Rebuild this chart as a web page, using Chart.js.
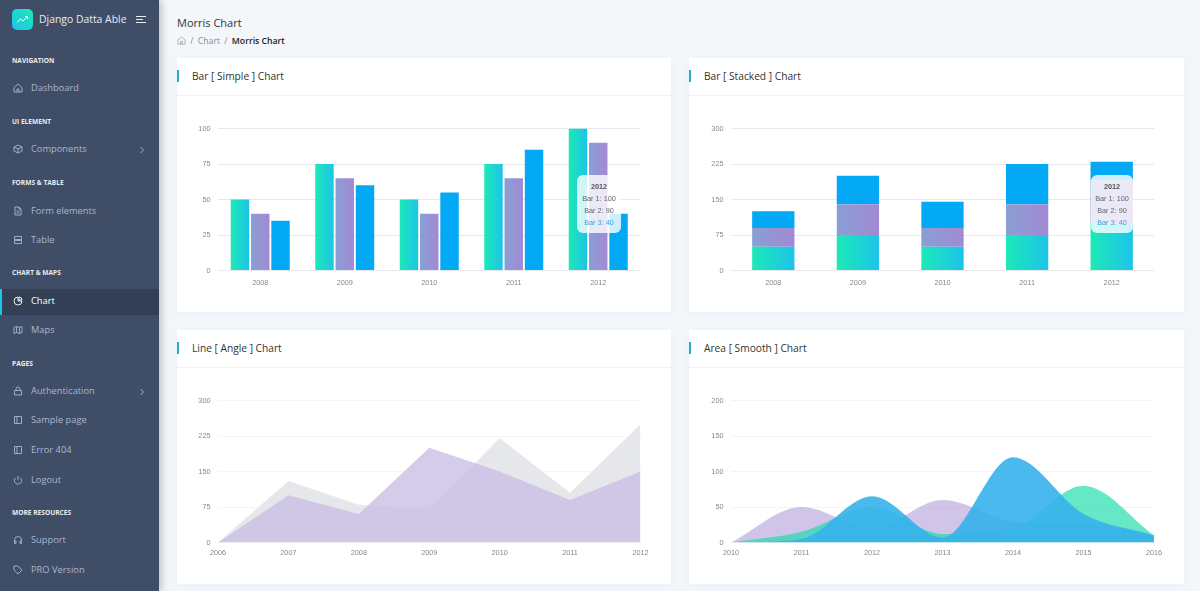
<!DOCTYPE html>
<html>
<head>
<meta charset="utf-8">
<title>Morris Chart</title>
<script src="https://cdn.jsdelivr.net/npm/chart.js@4/dist/chart.umd.min.js"></script>
<style>
html, body { margin: 0; padding: 0; }
body { width: 1200px; height: 591px; overflow: hidden; background: #f4f7fa; font-family: "Open Sans", sans-serif; position: relative; }
#side { position: absolute; left: 0; top: 0; width: 159px; height: 591px; background: #3f4d67; box-shadow: 2px 0 8px rgba(60,70,90,.35); }
#logo { position: absolute; left: 12px; top: 9px; width: 21px; height: 21px; border-radius: 5px; background: linear-gradient(-135deg, #1de9b6, #1dc4e9); }
#logo svg { position: absolute; left: 0; top: 0; }
#brand { position: absolute; left: 39px; top: 10px; font-size: 10.4px; line-height: 18px; color: #e8ebf0; white-space: nowrap; }
#burger { position: absolute; left: 136px; top: 16px; }
#burger i { display: block; height: 1px; background: #e8ebf0; margin-bottom: 2px; }
.group { position: absolute; left: 12px; font-size: 6.6px; font-weight: 700; color: #e8ebf0; line-height: 10px; white-space: nowrap; }
.item { position: absolute; left: 31px; font-size: 9.3px; color: #a9b7d0; line-height: 14px; white-space: nowrap; }
.item.on { color: #fff; }
.ico { position: absolute; left: 13px; width: 10px; height: 10px; }
.arrow { position: absolute; left: 139px; width: 6px; height: 8px; }
#active { position: absolute; left: 0; top: 289px; width: 159px; height: 26px; background: #333f54; }
#active i { position: absolute; left: 0; top: 0; width: 2px; height: 26px; background: #1dc4e9; }
#head { position: absolute; left: 177px; top: 15px; font-size: 11px; line-height: 16px; color: #333; }
#crumb { position: absolute; left: 177px; top: 34px; font-size: 8.7px; line-height: 14px; color: #888; white-space: nowrap; }
#crumb b { font-weight: 600; color: #222; }
#crumb span { margin: 0 4.3px; }
.card { position: absolute; height: 254px; background: #fff; box-shadow: 0 1px 8px rgba(180,190,210,.15); }
.card h5 { margin: 0; position: absolute; left: 15px; top: 9.5px; font-size: 10.2px; font-weight: 400; line-height: 16px; color: #333; white-space: nowrap; }
.card u { position: absolute; left: 0; top: 12px; width: 2px; height: 12px; background: #2ba8d3; display: block; }
.card hr { position: absolute; left: 0; top: 37px; width: 100%; margin: 0; border: 0; border-top: 1px solid #f1f1f1; }
.card .plot { position: absolute; left: 0; top: 38px; width: 100%; height: 216px; }
.tip { position: absolute; top: 116.5px; height: 58.5px; border-radius: 6px; background: rgba(255,255,255,.8); font: 7.3px/11.8px "Liberation Sans", sans-serif; color: #666; text-align: center; }
.tip b { display: block; margin-top: 6px; margin-bottom: 1px; color: #555; }
.tip div:last-child { color: #3f9fd8; }
</style>
</head>
<body>
<div id="side">
  <div id="logo"><svg width="21" height="21" viewBox="0 0 21 21"><path d="M5 13.5l3.5-3.5 2.5 2 4.5-4.5M13 7.5h2.5V10" fill="none" stroke="#fff" stroke-width="1"/></svg></div>
  <div id="brand">Django Datta Able</div>
  <div id="burger"><i style="width:10px"></i><i style="width:7px"></i><i style="width:10px"></i></div>
  <div id="active"><i></i></div>
</div>
<div id="head">Morris Chart</div>
<div id="crumb"><svg width="9" height="9" viewBox="0 0 10 10" style="vertical-align:-1px"><path d="M1 4.5L5 1l4 3.5V9H1zM4 9V6h2v3" fill="none" stroke="#999" stroke-width=".8"/></svg><span>/</span>Chart<span>/</span><b>Morris Chart</b></div>

<div class="card" style="left:177px;top:58px;width:494px"><u></u><h5>Bar [ Simple ] Chart</h5><hr><div class="plot"><canvas id="barSimple"></canvas></div><div class="tip" id="tipSimple" style="left:400px;width:44px"></div></div>
<div class="card" style="left:689px;top:58px;width:495px"><u></u><h5>Bar [ Stacked ] Chart</h5><hr><div class="plot"><canvas id="barStacked"></canvas></div><div class="tip" id="tipStacked" style="left:402px;width:42px"></div></div>
<div class="card" style="left:177px;top:330px;width:494px"><u></u><h5>Line [ Angle ] Chart</h5><hr><div class="plot"><canvas id="lineAngle"></canvas></div></div>
<div class="card" style="left:689px;top:330px;width:495px"><u></u><h5>Area [ Smooth ] Chart</h5><hr><div class="plot"><canvas id="areaSmooth"></canvas></div></div>

<script>
// chart values
const barYears = ['2008', '2009', '2010', '2011', '2012'];
const bar1 = [50, 75, 50, 75, 100];
const bar2 = [40, 65, 40, 65, 90];
const bar3 = [35, 60, 55, 85, 40];

const lineYears = ['2006', '2007', '2008', '2009', '2010', '2011', '2012'];
const lineGrey = [0, 130, 80, 70, 220, 105, 250];
const linePurple = [0, 100, 60, 200, 150, 90, 150];

const areaYears = ['2010', '2011', '2012', '2013', '2014', '2015', '2016'];
const areaPurple = [0, 50, 20, 60, 30, 25, 10];
const areaGreen = [0, 15, 50, 12, 20, 80, 10];
const areaBlue = [0, 5, 65, 7, 120, 40, 10];

// sidebar text
const navGroups = [['NAVIGATION', 56], ['UI ELEMENT', 117], ['FORMS & TABLE', 178], ['CHART & MAPS', 268], ['PAGES', 359], ['MORE RESOURCES', 508]];
const navItems = [
    ['Dashboard', 88, 'M1 4.5L5 1l4 3.5V9H1zM4 9V6h2v3'],
    ['Components', 149, 'M5 1l4 2v4L5 9 1 7V3zM1 3l4 2 4-2M5 5v4'],
    ['Form elements', 211, 'M2 1h4l2 2v6H2zM6 1v2h2M3.5 5h3M3.5 7h3'],
    ['Table', 240, 'M1.5 1.5h7v3h-7zM1.5 5.5h7v3h-7z'],
    ['Chart', 301, 'M5 1a4 4 0 1 0 4 4H5z M6 1a3 3 0 0 1 3 3H6z'],
    ['Maps', 330, 'M1 2.5l2.5-1 3 1 2.5-1v6l-2.5 1-3-1-2.5 1zM3.5 1.5v6M6.5 2.5v6'],
    ['Authentication', 391, 'M1.5 4.5h7v4.5h-7zM3 4.5V3a2 2 0 0 1 4 0v1.5'],
    ['Sample page', 420, 'M1.5 1.5h7v7h-7zM4 1.5v7'],
    ['Error 404', 450, 'M1.5 1.5h7v7h-7zM4 1.5v7'],
    ['Logout', 480, 'M5 1v4M2.7 2.7a3.6 3.6 0 1 0 4.6 0'],
    ['Support', 540, 'M1.5 6V5a3.5 3.5 0 0 1 7 0v1M1.5 6h1.5v2.5H1.5zM7 6h1.5v2.5H7z'],
    ['PRO Version', 570, 'M1 1h4l4 4-4 4-4-4z']
];
const side = document.getElementById('side');
navGroups.forEach(function (g) {
    let d = document.createElement('div');
    d.className = 'group';
    d.style.top = g[1] + 'px';
    d.textContent = g[0];
    side.appendChild(d);
});
navItems.forEach(function (n) {
    let d = document.createElement('div');
    d.className = 'item' + (n[0] === 'Chart' ? ' on' : '');
    d.style.top = (n[1] - 7) + 'px';
    d.textContent = n[0];
    side.appendChild(d);
    let colour = n[0] === 'Chart' ? '#fff' : '#a9b7d0';
    let ico = document.createElementNS('http://www.w3.org/2000/svg', 'svg');
    ico.setAttribute('class', 'ico');
    ico.setAttribute('viewBox', '0 0 10 10');
    ico.style.top = (n[1] - 5) + 'px';
    ico.innerHTML = '<path d="' + n[2] + '" fill="none" stroke="' + colour + '" stroke-width=".9"/>';
    side.appendChild(ico);
    if (n[0] === 'Components' || n[0] === 'Authentication') {
        let arrow = document.createElementNS('http://www.w3.org/2000/svg', 'svg');
        arrow.setAttribute('class', 'arrow');
        arrow.setAttribute('viewBox', '0 0 6 8');
        arrow.style.top = (n[1] - 3) + 'px';
        arrow.innerHTML = '<path d="M1.5 1l3 3-3 3" fill="none" stroke="#a9b7d0" stroke-width=".9"/>';
        side.appendChild(arrow);
    }
});

// hover box of the screenshot, it stays on the last year
function fillTip(id) {
    let last = barYears.length - 1;
    document.getElementById(id).innerHTML = '<b>' + barYears[last] + '</b>' +
        '<div>Bar 1: ' + bar1[last] + '</div>' +
        '<div>Bar 2: ' + bar2[last] + '</div>' +
        '<div>Bar 3: ' + bar3[last] + '</div>';
}
fillTip('tipSimple');
fillTip('tipStacked');

// gradient across the width of a single bar
function barGradient(from, to, slot, barWidth) {
    return function (c) {
        let x = c.chart.scales.x;
        if (!x || c.dataIndex === undefined) return from;
        let centre = x.getPixelForValue(c.dataIndex) + slot * (c.datasetIndex - 1);
        if (!isFinite(centre)) return from;
        let g = c.chart.ctx.createLinearGradient(centre - barWidth / 2, 0, centre + barWidth / 2, 0);
        g.addColorStop(0, from);
        g.addColorStop(1, to);
        return g;
    };
}

function baseOptions(maxY, stepY, gridColor, tickGap, axisWidth, rightGap) {
    return {
        responsive: true,
        maintainAspectRatio: false,
        animation: false,
        events: [],
        layout: { padding: { left: 0, right: rightGap, top: 32.5, bottom: 0 } },
        plugins: {
            legend: { display: false },
            tooltip: { enabled: false }
        },
        scales: {
            x: {
                grid: { display: false, drawTicks: false },
                border: { display: false },
                ticks: { color: '#888', padding: tickGap, maxRotation: 0, autoSkip: false, font: { family: 'Liberation Sans', size: 7.3 } },
                afterFit: function (axis) { axis.height = 41.5; axis.paddingLeft = 0; axis.paddingRight = 0; }
            },
            y: {
                min: 0,
                max: maxY,
                grid: { color: gridColor, drawTicks: false },
                border: { display: false },
                ticks: { stepSize: stepY, color: '#888', padding: 7.5, font: { family: 'Liberation Sans', size: 7.3 } },
                afterFit: function (axis) { axis.width = axisWidth; }
            }
        }
    };
}

function barSets(slot, barWidth) {
    return [
        { label: 'Bar 1', data: bar1, backgroundColor: barGradient('#1de9b6', '#1dc4e9', slot, barWidth) },
        { label: 'Bar 2', data: bar2, backgroundColor: barGradient('#899fd4', '#a389d4', slot, barWidth) },
        { label: 'Bar 3', data: bar3, backgroundColor: '#04a9f5' }
    ];
}

const simpleSets = barSets(20.3, 18.5);
simpleSets.forEach(function (s) { s.categoryPercentage = 0.72; s.barPercentage = 0.91; });
new Chart(document.getElementById('barSimple'), {
    type: 'bar',
    data: { labels: barYears, datasets: simpleSets },
    options: baseOptions(100, 25, '#e6e8ec', 8, 41, 30.5)
});

const stackSets = barSets(0, 42);
stackSets.forEach(function (s) { s.categoryPercentage = 0.5; s.barPercentage = 1; });
const stackOpts = baseOptions(300, 75, '#e6e8ec', 8, 42, 30);
stackOpts.scales.x.stacked = true;
stackOpts.scales.y.stacked = true;
new Chart(document.getElementById('barStacked'), {
    type: 'bar',
    data: { labels: barYears, datasets: stackSets },
    options: stackOpts
});

const lineOpts = baseOptions(300, 75, '#f5f5f6', 6, 41, 30.5);
lineOpts.scales.x.offset = false;
new Chart(document.getElementById('lineAngle'), {
    type: 'line',
    data: {
        labels: lineYears,
        datasets: [
            { data: linePurple, fill: 'origin', tension: 0, borderWidth: 0, pointRadius: 0, backgroundColor: 'rgba(202,191,229,0.8)' },
            { data: lineGrey, fill: 'origin', tension: 0, borderWidth: 0, pointRadius: 0, backgroundColor: '#e6e7ea' }
        ]
    },
    options: lineOpts
});

const areaOpts = baseOptions(200, 50, '#f3f4f5', 6, 42, 30);
areaOpts.scales.x.offset = false;
new Chart(document.getElementById('areaSmooth'), {
    type: 'line',
    data: {
        labels: areaYears,
        datasets: [
            { data: areaBlue, fill: 'origin', cubicInterpolationMode: 'monotone', borderWidth: 0, pointRadius: 0, backgroundColor: 'rgba(54,177,236,0.9)' },
            { data: areaGreen, fill: 'origin', cubicInterpolationMode: 'monotone', borderWidth: 0, pointRadius: 0, backgroundColor: 'rgba(29,220,170,0.68)' },
            { data: areaPurple, fill: 'origin', cubicInterpolationMode: 'monotone', borderWidth: 0, pointRadius: 0, backgroundColor: 'rgba(163,137,212,0.5)' }
        ]
    },
    options: areaOpts
});
</script>
</body>
</html>
